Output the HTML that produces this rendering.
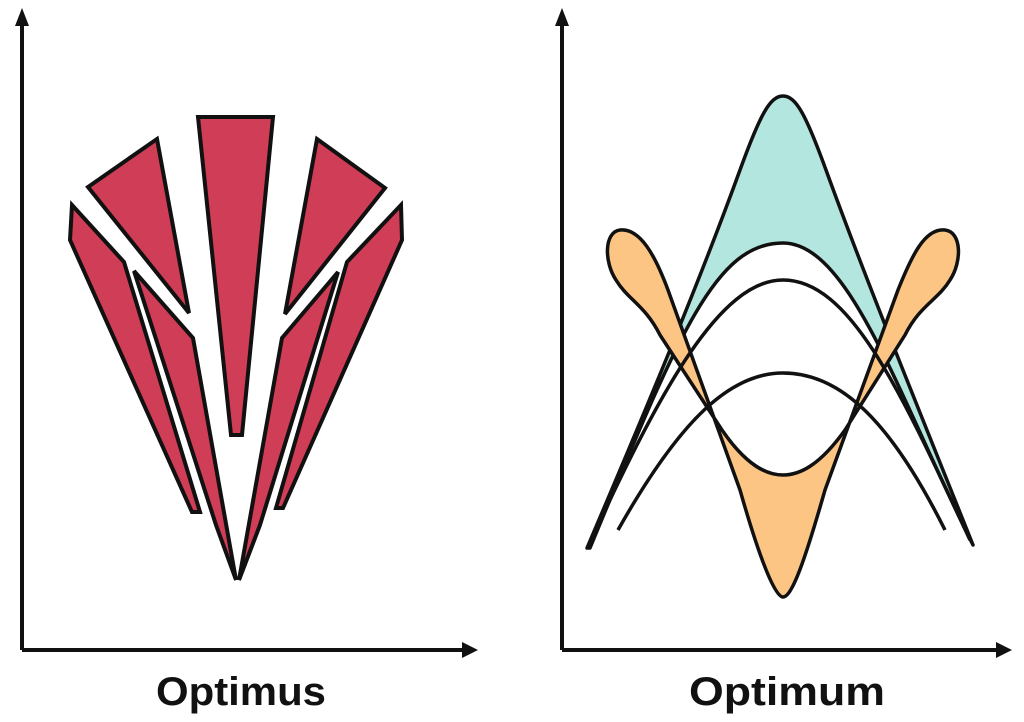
<!DOCTYPE html>
<html><head><style>
html,body{margin:0;padding:0;background:#fff;}
svg{display:block;}
text{font-family:"Liberation Sans",sans-serif;font-weight:bold;}
</style></head><body>
<svg width="1024" height="722" viewBox="0 0 1024 722" xmlns="http://www.w3.org/2000/svg">
<rect width="1024" height="722" fill="#fff"/>
<g stroke="#111" stroke-width="4" fill="none">
<path d="M22,650 L22,22"/>
<path d="M22,650 L464,650"/>
<path d="M562,650 L562,22"/>
<path d="M562,650 L998,650"/>
</g>
<g fill="#111">
<polygon points="22,8 15,26 29,26"/>
<polygon points="478,650 462,642 462,658"/>
<polygon points="562,8 555,26 569,26"/>
<polygon points="1012,650 996,642 996,658"/>
</g>
<text x="241" y="705" font-size="40" text-anchor="middle" fill="#111" textLength="170" lengthAdjust="spacingAndGlyphs">Optimus</text>
<text x="787" y="705" font-size="40" text-anchor="middle" fill="#111" textLength="196" lengthAdjust="spacingAndGlyphs">Optimum</text>

<g fill="#cf3d57" stroke="#111" stroke-width="4" stroke-linejoin="miter">
<polygon points="198,117 273,117 242,435 231,435"/>
<polygon points="157,139 88,187 189,313"/>
<polygon points="317,139 385,188 285,314"/>
<polygon points="72,205 124,262 200,512 192,512 70,240"/>
<polygon points="134,271 193,338 236,580 216,525"/>
<polygon points="401,205 402,240 283,508 276,508 347,262"/>
<polygon points="338,272 282,338 239,580 260,525"/>
</g>

<g stroke="#111" stroke-width="3.5" stroke-linejoin="round">
<path fill="#b4e6e0" d="M587,548 C650,400 700,280 740,170 C760,115 770,96 783,96 C796,96 806,115 826,170 C866,280 915,400 973,545 C900,400 850,243 783,243 C716,243 680,330 590,548 Z"/>
<path fill="#fdc584" d="M620,230 C640,228 655,255 668,290 L740,490 C760,560 775,597 783,597 C792,597 805,560 825,490 L898,290 C912,255 925,228 945,230 C962,232 962,262 950,280 C938,300 920,305 905,335 L845,430 C820,465 800,475 783,475 C766,475 746,465 722,430 L660,335 C645,305 628,300 616,280 C604,262 604,232 620,230 Z"/>
<path fill="none" d="M589,545 C660,390 720,280 783,280 C850,280 900,390 970,540"/>
<path fill="none" d="M618,530 C680,420 730,373 783,373 C840,373 890,420 945,530"/>
</g>
</svg>
</body></html>
